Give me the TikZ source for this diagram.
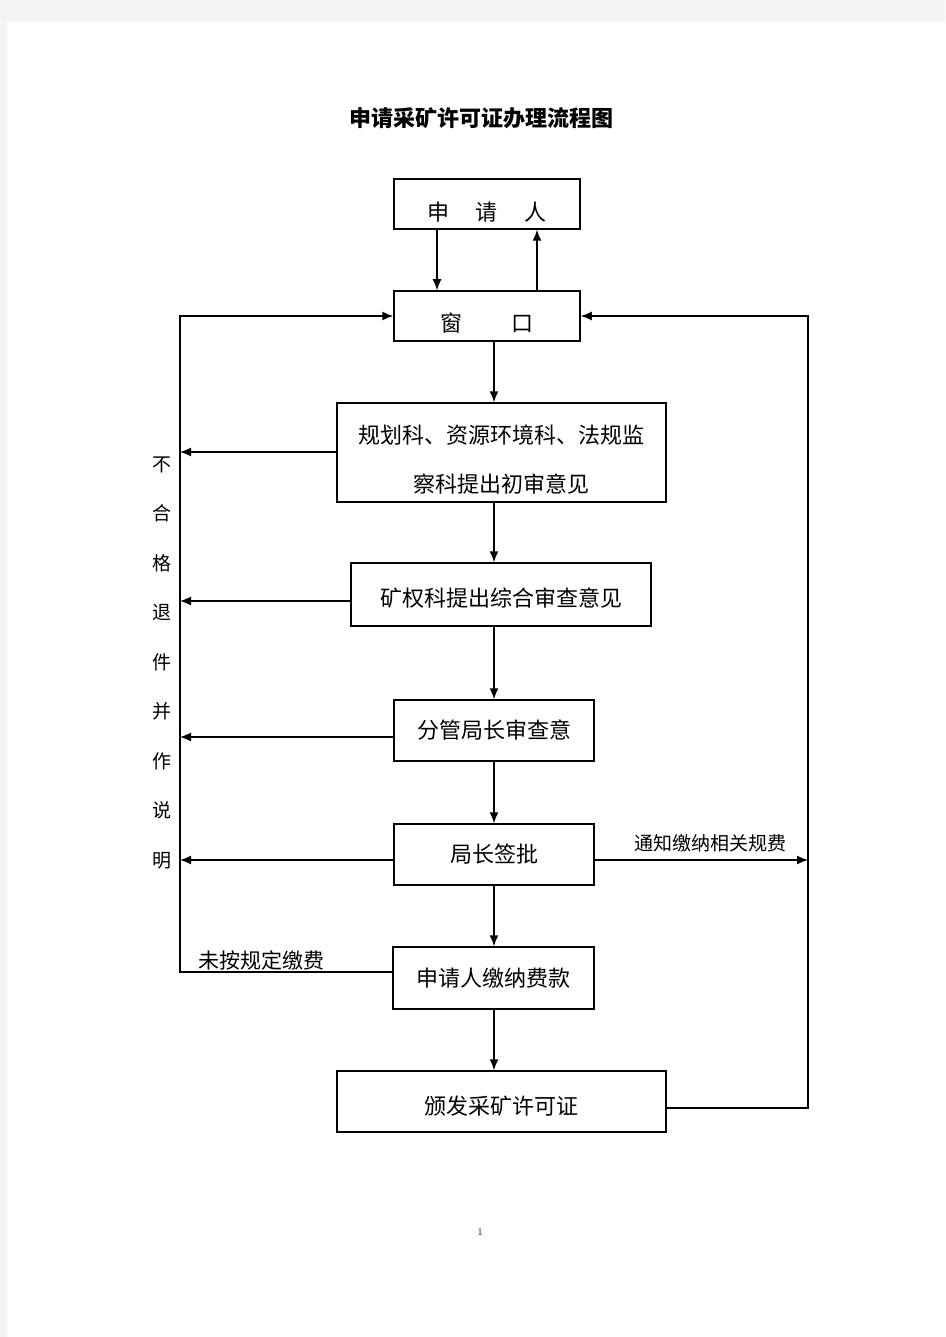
\documentclass[tikz,border=0pt]{standalone}
\usepackage{fontspec}
\newfontfamily\cjk{Noto Sans CJK SC}
\usepackage{tikz}
\usetikzlibrary{positioning}
\usetikzlibrary{arrows.meta}
\usepackage{xcolor}
\definecolor{pagegray}{HTML}{F4F4F4}
\newcommand{\sinktext}[2][6pt]{\raisebox{-#1}[\height][\depth]{\begin{tabular}{@{}c@{}}#2\end{tabular}}}

\tikzset{
	box/.style={rectangle, draw=black, line width=1.5pt, font={\cjk\fontsize{22}{49}\selectfont}, align=center, inner sep=0pt},
	flow/.style={line width=1.5pt, -{Latex[length=11pt,width=9pt]}},
	note/.style={font={\cjk\fontsize{19}{24}\selectfont}, inner sep=0pt}
}

\begin{document}
\begin{tikzpicture}[x=1pt, y=-1pt]
	\fill[pagegray] (0,0) rectangle (945,1337);
	\fill[white] (7,22) rectangle (945,1337);
	\useasboundingbox (0,0) rectangle (945,1337);

	\node[inner sep=0pt, font={\cjk\bfseries\fontsize{22}{26}\selectfont}] (title) at (481,118) {申请采矿许可证办理流程图};

	\node[box, minimum width=186pt, minimum height=50pt] (shenqingren) at (487,204) {\sinktext[7pt]{申\hspace{1.2em}请\hspace{1.2em}人}};
	\node[box, minimum width=186pt, minimum height=50pt] (chuangkou) at (487,316) {\sinktext{窗\hspace{2.2em}口}};
	\node[box, minimum width=329pt, minimum height=99pt] (chushen) at (501.5,452.5) {\sinktext{规划科、资源环境科、法规监\\察科提出初审意见}};
	\node[box, minimum width=300pt, minimum height=63pt] (zonghe) at (501,594.5) {\sinktext[2pt]{矿权科提出综合审查意见}};
	\node[box, minimum width=200pt, minimum height=61pt] (fenguan) at (494,730.5) {分管局长审查意};
	\node[box, minimum width=200pt, minimum height=61pt] (juzhang) at (494,854.5) {局长签批};
	\node[box, minimum width=201pt, minimum height=62pt] (jiaofei) at (493.5,978) {申请人缴纳费款};
	\node[box, minimum width=329pt, minimum height=61pt] (banfa) at (501.5,1101.5) {\sinktext[3pt]{颁发采矿许可证}};

	\coordinate (axis) at (494,0);
	\coordinate (lefttop) at (180,316);
	\coordinate (righttop) at (808,316);

	\draw[flow] ([xshift=-50pt]shenqingren.south) -- ([xshift=-50pt]chuangkou.north);
	\draw[flow] ([xshift=50pt]chuangkou.north) -- ([xshift=50pt]shenqingren.south);
	\draw[flow] (chuangkou.south -| axis) -- (chushen.north -| axis);
	\draw[flow] (chushen.south -| axis) -- (zonghe.north -| axis);
	\draw[flow] (zonghe.south -| axis) -- (fenguan.north -| axis);
	\draw[flow] (fenguan.south -| axis) -- (juzhang.north -| axis);
	\draw[flow] (juzhang.south -| axis) -- (jiaofei.north -| axis);
	\draw[flow] (jiaofei.south -| axis) -- (banfa.north -| axis);

	% return line on the left
	\draw[flow] ([yshift=6pt]jiaofei.west) -| (lefttop) -- (chuangkou.west);
	\draw[flow] ([yshift=0.5pt]chushen.west) -- ([yshift=0.5pt]chushen.west -| lefttop);
	\draw[flow] ([yshift=-6.5pt]zonghe.west) -- ([yshift=-6.5pt]zonghe.west -| lefttop);
	\draw[flow] ([yshift=-6.5pt]fenguan.west) -- ([yshift=-6.5pt]fenguan.west -| lefttop);
	\draw[flow] ([yshift=-5.5pt]juzhang.west) -- ([yshift=-5.5pt]juzhang.west -| lefttop);

	% line on the right
	\draw[flow] ([yshift=-6.5pt]banfa.east) -| (righttop) -- (chuangkou.east);
	\draw[flow] ([yshift=-5.5pt]juzhang.east) -- ([yshift=-5.5pt]juzhang.east -| righttop);

	\node[note] (tongzhi) at (710,843) {通知缴纳相关规费};
	\node[note, font={\cjk\fontsize{21}{24}\selectfont}] (weian) at (261,960) {未按规定缴费};
	\node[note, align=center, font={\cjk\fontsize{19}{49.5}\selectfont}] (tuijian) at (162,663) {不\\合\\格\\退\\件\\并\\作\\说\\明};

	\node[inner sep=0pt, font=\fontsize{10}{12}\selectfont] (pagenum) at (480,1232) {1};
\end{tikzpicture}
\end{document}
